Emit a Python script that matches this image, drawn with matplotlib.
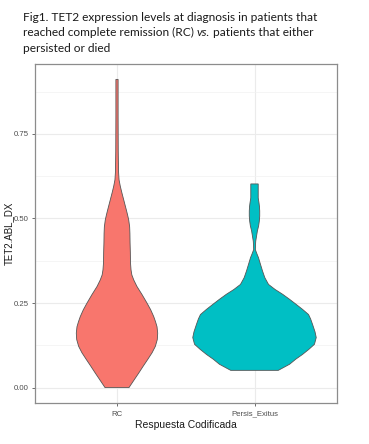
import numpy as np
import matplotlib
matplotlib.use("Agg")
import matplotlib.pyplot as plt
from matplotlib.ticker import MultipleLocator

# groups and colours (ggplot default hues)
groups = ["RC", "Persis_Exitus"]
colors = ["#F8766D", "#00BFC4"]

# violin outlines: TET2.ABL_DX level and half width (x units)
rc_y = [0.0, 0.02, 0.043, 0.063, 0.083, 0.103, 0.122, 0.142, 0.161, 0.18, 0.195,
        0.21, 0.23, 0.25, 0.275, 0.299, 0.318, 0.333, 0.348, 0.37, 0.40, 0.428,
        0.455, 0.475, 0.496, 0.512, 0.525, 0.55, 0.575, 0.595, 0.614, 0.64,
        0.70, 0.80, 0.911]
rc_w = [0.087, 0.12, 0.158, 0.19, 0.223, 0.255, 0.279, 0.293, 0.296, 0.291, 0.28,
        0.267, 0.245, 0.218, 0.182, 0.145, 0.122, 0.108, 0.102, 0.098, 0.097, 0.095,
        0.094, 0.092, 0.085, 0.076, 0.068, 0.052, 0.036, 0.024, 0.015, 0.011,
        0.009, 0.008, 0.008]

pe_y = [0.051, 0.069, 0.084, 0.098, 0.113, 0.128, 0.148, 0.165, 0.187, 0.203,
        0.216, 0.231, 0.246, 0.261, 0.276, 0.29, 0.305, 0.325, 0.345, 0.365,
        0.384, 0.397, 0.408, 0.42, 0.433, 0.448, 0.463, 0.478, 0.492, 0.507,
        0.522, 0.535, 0.545, 0.561, 0.602]
pe_w = [0.173, 0.255, 0.30, 0.349, 0.395, 0.436, 0.449, 0.44, 0.422, 0.408,
        0.393, 0.35, 0.303, 0.255, 0.204, 0.15, 0.102, 0.075, 0.058, 0.043,
        0.029, 0.016, 0.006, 0.007, 0.009, 0.015, 0.021, 0.03, 0.035, 0.038,
        0.038, 0.036, 0.033, 0.027, 0.027]

profiles = [(rc_y, rc_w), (pe_y, pe_w)]

W, H = 369, 444
fig = plt.figure(figsize=(3.69, 4.44), dpi=100)
ax = fig.add_axes([34.5 / W, 1 - 403 / H, 302.5 / W, 339 / H])

for i, (yy, ww) in enumerate(profiles):
    yy = np.array(yy)
    ww = np.array(ww)
    xs = np.concatenate([i + 1 - ww, (i + 1 + ww)[::-1]])
    ys = np.concatenate([yy, yy[::-1]])
    ax.fill(xs, ys, facecolor=colors[i], edgecolor="#555555", linewidth=0.6, zorder=3)

ax.set_xlim(0.4, 2.6)
ax.set_xticks([1, 2])
ax.set_xticklabels(groups)
ax.yaxis.set_minor_locator(MultipleLocator(0.125))
ax.set_ylim(-0.0455, 0.9565)
ax.set_yticks([0, 0.25, 0.5, 0.75])
ax.set_yticklabels(["0.00", "0.25", "0.50", "0.75"])

ax.grid(True, which="major", color="#EBEBEB", linewidth=0.8, zorder=0)
ax.grid(True, which="minor", axis="y", color="#F2F2F2", linewidth=0.5, zorder=0)
ax.set_axisbelow(True)
for s in ax.spines.values():
    s.set_color("#8C8C8C")
    s.set_linewidth(0.9)

ax.tick_params(which="major", length=2.5, width=0.6, color="#555555",
               labelsize=5.6, labelcolor="#4D4D4D", pad=2)
ax.tick_params(axis="x", pad=3)
ax.tick_params(which="minor", length=0)
for lab in ax.get_xticklabels() + ax.get_yticklabels():
    lab.set_family("Liberation Sans")

ax.set_xlabel("Respuesta Codificada", family="Liberation Sans", fontsize=7.5,
              color="#1a1a1a")
ax.xaxis.set_label_coords(0.5, -(427.5 - 403) / 339)
ax.xaxis.label.set_va("baseline")
ax.set_ylabel("TET2.ABL_DX", family="Liberation Sans", fontsize=7,
              color="#1a1a1a")
ax.yaxis.set_label_coords(-(34.5 - 8.5) / 302.5, 0.5)
ax.yaxis.label.set_va("center")

# title block, three lines, with italic "vs."
r = fig.canvas.get_renderer()
tkw = dict(family="Lato", fontsize=8.6, color="#1a1a1a", va="baseline")
fig.text(23 / W, 1 - 21 / H, "Fig1. TET2 expression levels at diagnosis in patients that", **tkw)
t1 = fig.text(23 / W, 1 - 36.5 / H, "reached complete remission (RC)", **tkw)
sp = fig.text(0, 0, "a a", alpha=0, **tkw).get_window_extent(r).width - \
    fig.text(0, 0, "aa", alpha=0, **tkw).get_window_extent(r).width
x = t1.get_window_extent(r).x1 + sp
t2 = fig.text(x / W, 1 - 36.5 / H, "vs.", style="italic", **tkw)
x = t2.get_window_extent(r).x1 + sp
fig.text(x / W, 1 - 36.5 / H, "patients that either", **tkw)
fig.text(23 / W, 1 - 52 / H, "persisted or died", **tkw)

fig.savefig("out.png", dpi=100)
